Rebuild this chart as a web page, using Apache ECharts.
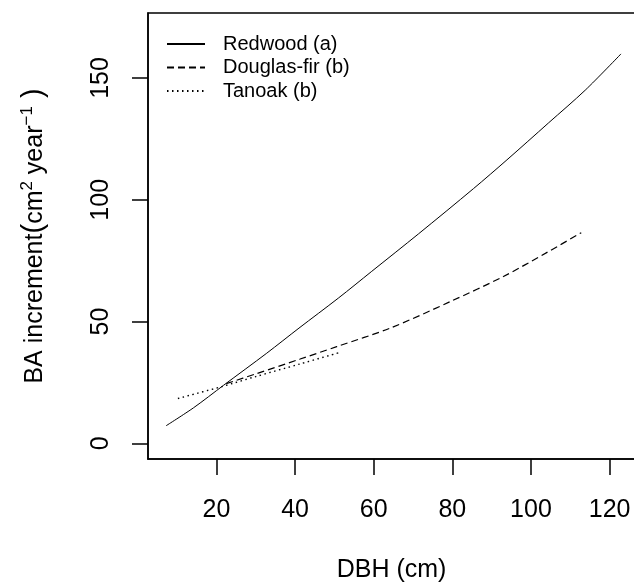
<!DOCTYPE html>
<html lang="en">
<head>
    <meta charset="UTF-8">
    <title>BA increment</title>
    <script src="https://cdn.jsdelivr.net/npm/echarts@6/dist/echarts.min.js"></script>
    <style>
        html, body { margin: 0; padding: 0; background: #fff; }
        #main { width: 634px; height: 584px; }
    </style>
</head>
<body>
<div id="main"></div>
<script type="text/javascript">

    // values (DBH in cm, BA increment in cm2/year)
    const redwoodX = [7.2, 14.2, 21.8, 32.8, 41, 51, 59.5, 71.4, 85.4, 93.9, 104.5, 113.8, 122.9];
    const redwoodY = [7.2, 14.6, 23.8, 37.0, 47.3, 59.6, 70.6, 86.0, 104.6, 116.4, 131.6, 145.0, 159.9];

    const douglasX = [22.5, 30, 41.3, 50.6, 64.2, 79.5, 93, 104.1, 112.8];
    const douglasY = [24.5, 28.5, 34.6, 39.7, 47.3, 58.2, 68.5, 78.4, 86.5];

    const tanoakX = [10.2, 21.4, 30, 41.3, 51.8];
    const tanoakY = [18.4, 23.3, 27.4, 32.6, 37.5];

    const xTicks = [20, 40, 60, 80, 100, 120];
    const yTicks = [0, 50, 100, 150];

    const seriesNames = ['Redwood (a)', 'Douglas-fir (b)', 'Tanoak (b)'];

    function pairs(xs, ys) {
        return xs.map(function (x, i) { return [x, ys[i]]; });
    }

    let myChart = echarts.init(document.getElementById('main'));

    const font = 'Liberation Sans, Arial, sans-serif';

    let option = {
        animation: false,
        color: ['#000', '#000', '#000'],
        textStyle: { fontFamily: font },
        grid: {
            left: 148, top: 13, right: -9, bottom: 125,
            outerBoundsMode: 'none',
            show: true,
            borderColor: '#000',
            borderWidth: 1.5,
            backgroundColor: 'transparent'
        },
        legend: {
            orient: 'vertical',
            left: 166,
            top: 34,
            padding: 0,
            itemWidth: 38,
            itemHeight: 14,
            itemGap: 3.5,
            data: seriesNames,
            itemStyle: { opacity: 0 },
            textStyle: {
                fontFamily: font,
                fontSize: 20,
                lineHeight: 20,
                color: '#000',
                padding: [0, 0, 0, 13]
            }
        },
        xAxis: {
            type: 'value',
            min: 2.6,
            max: 128.5,
            name: 'DBH (cm)',
            nameLocation: 'middle',
            nameGap: 99,
            nameTextStyle: { fontFamily: font, fontSize: 25, color: '#000', padding: [0, 8, 0, 0] },
            axisLine: { show: true, onZero: false, lineStyle: { color: '#000', width: 1.5 } },
            axisTick: { show: true, length: 16, lineStyle: { color: '#000', width: 1.5 }, customValues: xTicks },
            axisLabel: { fontFamily: font, fontSize: 25, color: '#000', margin: 39, customValues: xTicks },
            splitLine: { show: false }
        },
        yAxis: {
            type: 'value',
            min: -6.45,
            max: 176.7,
            name: '{t|BA increment}{p|(}{t|cm}{s|2}{t| year}{s|−1}{p| )}',
            nameLocation: 'middle',
            nameGap: 100,
            nameTextStyle: {
                fontFamily: font,
                color: '#000',
                rich: {
                    t: { fontFamily: font, fontSize: 25, color: '#000', verticalAlign: 'bottom' },
                    p: { fontFamily: font, fontSize: 29, color: '#000', verticalAlign: 'bottom' },
                    s: { fontFamily: font, fontSize: 17, color: '#000', verticalAlign: 'top' }
                }
            },
            axisLine: { show: true, onZero: false, lineStyle: { color: '#000', width: 1.5 } },
            axisTick: { show: true, length: 16, lineStyle: { color: '#000', width: 1.5 }, customValues: yTicks },
            axisLabel: { fontFamily: font, fontSize: 25, color: '#000', margin: 34, rotate: 90, customValues: yTicks },
            splitLine: { show: false }
        },
        series: [
            {
                name: seriesNames[0],
                type: 'line',
                data: pairs(redwoodX, redwoodY),
                symbol: 'none',
                smooth: 0.3,
                lineStyle: { color: '#000', width: 1, type: 'solid' }
            },
            {
                name: seriesNames[1],
                type: 'line',
                data: pairs(douglasX, douglasY),
                symbol: 'none',
                smooth: 0.3,
                lineStyle: { color: '#000', width: 1.2, type: [7, 4] }
            },
            {
                name: seriesNames[2],
                type: 'line',
                data: pairs(tanoakX, tanoakY),
                symbol: 'none',
                smooth: 0.3,
                lineStyle: { color: '#000', width: 1.4, type: [1.5, 3.5] }
            }
        ]
    };

    myChart.setOption(option);
</script>
</body>
</html>
